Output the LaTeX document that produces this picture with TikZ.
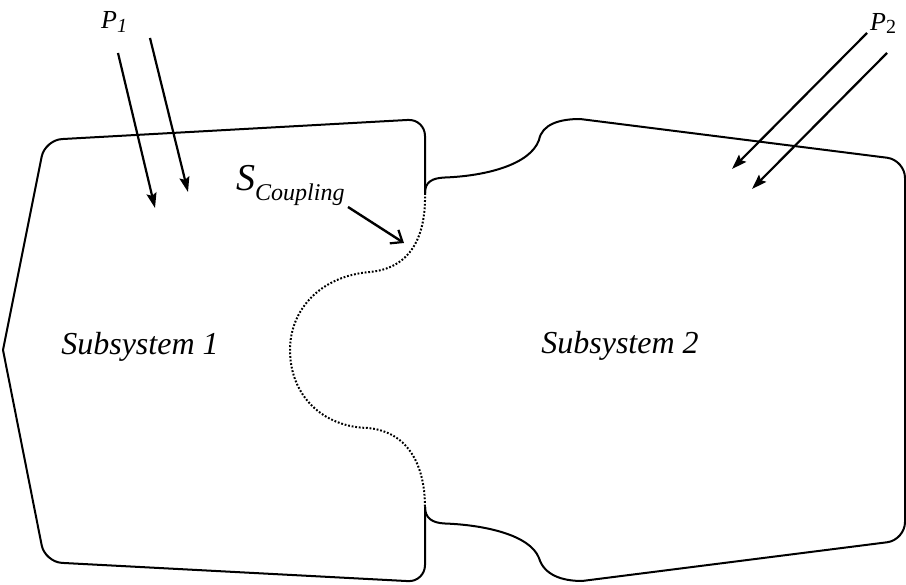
\documentclass[tikz,border=0pt]{standalone}
\usepackage{fontspec}
\setmainfont{Liberation Serif}
\usetikzlibrary{arrows.meta}
\begin{document}
\begin{tikzpicture}[x=1pt,y=-1pt,
  outline/.style={line width=2pt, line join=round, line cap=round},
  couplingline/.style={line width=2pt, dash pattern=on 1.8pt off 1.8pt},
  force/.style={line width=2.2pt, -{Stealth[length=15pt,width=10pt,inset=2.5pt]}},
  pointer/.style={line width=2.4pt, -{Straight Barb[length=10pt,width=16pt,line width=2.2pt]}},
  lbl/.style={inner sep=0pt, anchor=base west},
  sublbl/.style={inner sep=0pt, anchor=base, font=\fontsize{32}{36}\selectfont\itshape}]
\useasboundingbox (0,0) rectangle (906,585);

% Subsystem 1 outline (solid part)
\draw[outline, rounded corners=17pt] (425,193) -- (425,119) -- (45,140) -- (3,350);
\draw[outline, rounded corners=17pt] (3,350) -- (45,562) -- (425,582) -- (425,507);

% coupling surface (dotted)
\draw[couplingline] (425,193) .. controls (426,238) and (410,268) .. (370,272)
  .. controls (320,276) and (290,310) .. (290,350)
  .. controls (290,395) and (322,427) .. (368,428)
  .. controls (410,432) and (425,468) .. (425,507);

% Subsystem 2 outline
\draw[outline] (425,193) .. controls (425,182) and (432,178) .. (445,177.5)
  .. controls (485,176) and (530,165) .. (539,140)
  .. controls (542,124) and (560,119) .. (580,119);
\draw[outline, rounded corners=18pt] (580,119) -- (905,160) -- (905,540) -- (582,581);
\draw[outline] (425,507) .. controls (425,518) and (432,523) .. (445,523.5)
  .. controls (485,525) and (530,535) .. (539,558)
  .. controls (544,575) and (562,581) .. (582,581);

% labels
\node[sublbl] (sub1) at (140,355) {Subsystem 1};
\node[sublbl] (sub2) at (620,354) {Subsystem 2};
\node[lbl] (p1) at (101,29) {\fontsize{26}{28}\selectfont\textit{P}\raisebox{-4pt}{\fontsize{20}{22}\selectfont\textit{1}}};
\node[lbl] (p2) at (870,31) {\fontsize{26}{28}\selectfont\textit{P}\raisebox{-3pt}{\fontsize{20}{22}\selectfont 2}};
\node[lbl] (scoup) at (236,191) {\fontsize{38}{42}\selectfont\textit{S}\raisebox{-10pt}{\fontsize{24}{28}\selectfont\textit{Coupling}}};

% arrow end points
\coordinate (p1as) at (118,53);
\coordinate (p1ae) at (155,208);
\coordinate (p1bs) at (150,38);
\coordinate (p1be) at (188,192);
\coordinate (p2as) at (867,33);
\coordinate (p2ae) at (732,169);
\coordinate (p2bs) at (887,53);
\coordinate (p2be) at (752,189);
\coordinate (scs) at (348,207);
\coordinate (sce) at (404,243);

\draw[force] (p1as) -- (p1ae);
\draw[force] (p1bs) -- (p1be);
\draw[force] (p2as) -- (p2ae);
\draw[force] (p2bs) -- (p2be);
\draw[pointer] (scs) -- (sce);
\end{tikzpicture}
\end{document}
